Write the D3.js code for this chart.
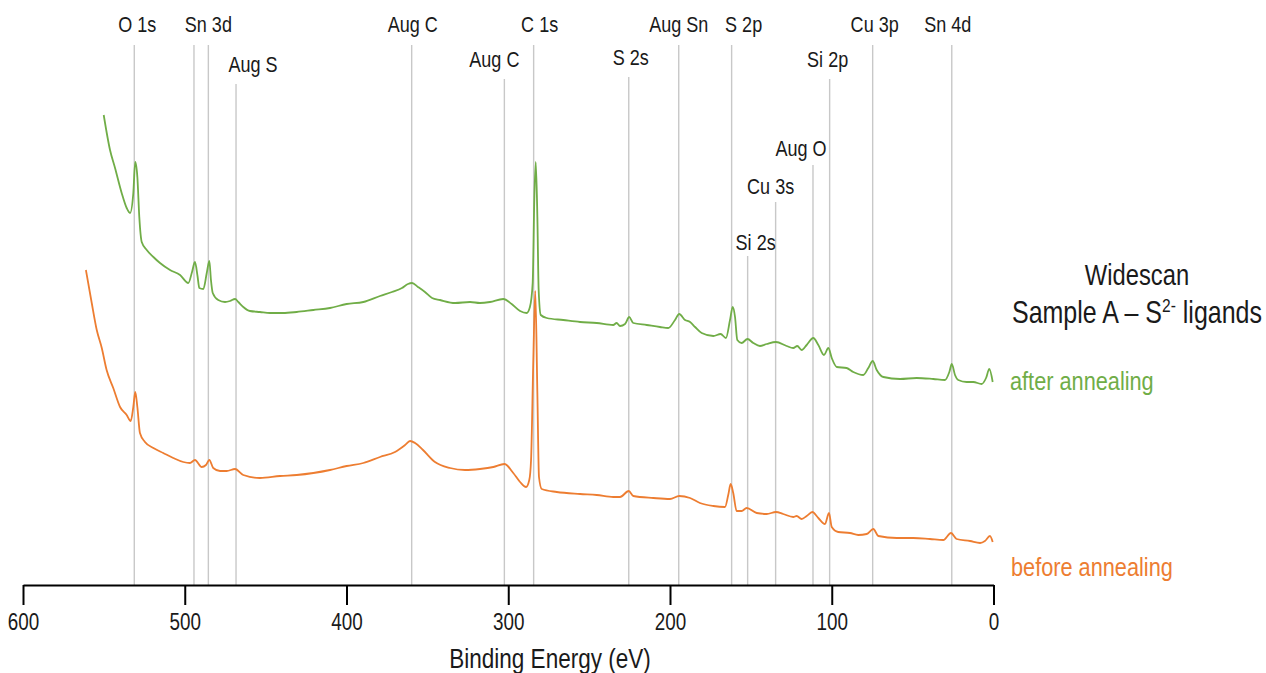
<!DOCTYPE html>
<html>
<head>
<meta charset="utf-8">
<script src="https://cdn.jsdelivr.net/npm/d3@7"></script>
<style>
  html, body { margin: 0; padding: 0; background: #fff; }
  svg { display: block; }
  text { font-family: "Liberation Sans", Arial, sans-serif; fill: #1a1a1a; }
</style>
</head>
<body>
<svg id="chart" width="1266" height="673"></svg>
<script>
// XPS wide scan, intensity in arbitrary units (curves are offset vertically)
const afterEnergy = [550.1,546.2,543.1,539.0,535.9,533.8,531.8,530.6,529.3,528.1,526.6,523.5,519.4,515.3,509.1,502.9,497.8,495.5,493.7,492.1,491.0,488.5,486.4,484.8,483.8,482.7,479.3,475.1,472.0,468.9,466.9,463.8,459.7,453.5,447.3,439.3,430.8,420.5,410.2,399.9,389.6,379.3,371.9,365.7,362.0,359.5,355.8,351.5,347.1,342.2,332.9,323.6,317.5,311.3,303.1,297.9,292.7,288.6,286.6,284.9,283.9,283.0,282.0,281.2,279.9,276.2,266.0,255.6,245.3,235.1,233.0,230.9,227.8,225.2,222.7,214.4,206.2,201.1,196.9,194.3,190.7,187.6,184.5,180.4,173.2,168.7,165.4,162.9,161.2,159.8,158.4,155.7,152.1,148.5,144.4,140.2,134.5,127.9,123.8,121.3,118.6,115.5,111.4,108.3,104.8,102.1,100.0,96.9,90.8,86.7,80.5,77.4,74.7,72.2,68.1,57.8,47.5,37.2,30.0,27.3,25.8,23.8,21.8,16.6,12.5,7.3,4.6,2.6,0.5];
const afterIntensity = [47.0,43.5,41.7,39.2,37.7,37.2,39.2,42.3,40.8,36.8,34.3,33.5,32.8,32.2,31.5,31.0,30.2,31.3,32.3,30.9,29.7,29.6,31.2,32.4,30.5,29.2,28.5,28.3,28.4,28.6,28.3,27.8,27.4,27.3,27.2,27.2,27.3,27.5,27.7,28.1,28.3,28.9,29.3,29.7,30.1,30.2,29.8,29.3,28.7,28.5,28.2,28.3,28.2,28.3,28.6,28.1,27.4,27.2,27.8,30.2,38.5,42.3,36.8,29.5,27.0,26.7,26.5,26.3,26.2,26.0,26.2,25.9,26.1,26.8,26.2,26.0,25.8,25.7,26.5,27.1,26.5,26.3,25.8,25.2,24.9,25.1,24.7,26.5,27.8,26.8,24.5,24.2,24.6,24.2,23.9,24.1,24.3,23.9,23.7,23.9,23.5,24.0,24.7,24.0,23.0,23.7,22.7,21.8,21.7,21.3,21.0,21.7,22.4,21.5,20.8,20.6,20.7,20.6,20.5,21.3,22.1,21.0,20.5,20.3,20.3,20.1,20.7,21.6,20.3];

const beforeEnergy = [561.1,557.5,554.4,551.3,548.3,544.2,540.0,535.9,533.4,531.8,530.6,529.3,527.7,524.6,519.4,513.3,507.1,500.9,496.8,493.7,489.5,486.9,484.8,482.4,478.2,474.1,468.9,463.8,453.5,441.1,430.8,420.5,410.2,399.9,389.6,379.3,370.0,363.8,360.7,357.6,352.7,345.3,336.0,326.7,317.5,309.2,302.4,296.9,292.7,289.0,287.0,285.9,284.5,283.3,282.0,281.0,279.3,270.0,255.6,245.3,235.1,230.9,225.5,222.7,210.3,200.0,194.3,187.6,181.5,173.2,166.0,164.0,162.5,160.9,158.8,155.7,152.6,146.4,140.2,134.5,130.0,123.8,121.7,118.6,115.5,112.0,108.3,104.2,101.7,100.0,96.0,88.7,83.6,78.4,74.3,71.2,59.8,49.6,39.3,31.0,26.3,22.8,14.5,8.3,5.3,2.2,0.5];
const beforeIntensity = [31.5,28.2,25.5,23.7,21.5,19.7,17.8,17.0,16.4,17.8,19.3,17.8,15.2,14.3,13.7,13.2,12.7,12.3,12.2,12.5,11.8,12.0,12.5,11.7,11.4,11.4,11.6,11.0,10.7,10.9,11.0,11.2,11.5,11.9,12.2,12.8,13.3,14.0,14.4,14.2,13.5,12.3,11.7,11.5,11.6,11.8,12.1,11.2,10.3,9.8,10.5,12.5,22.5,29.4,19.2,10.8,9.6,9.3,9.1,9.0,8.8,8.8,9.4,8.9,8.7,8.6,8.9,8.7,8.2,7.9,7.8,9.0,10.1,9.2,7.4,7.4,7.7,7.2,7.1,7.3,7.1,6.8,6.9,6.6,6.9,7.3,6.7,6.1,7.2,5.8,5.3,5.2,5.0,5.1,5.6,4.9,4.7,4.7,4.6,4.5,5.2,4.6,4.4,4.2,4.4,4.9,4.3];

// Peak assignments (binding energy, eV); the Sn 3d doublet shares one label
const peakNames    = ["O 1s", "", "Sn 3d", "Aug S", "Aug C", "Aug C", "C 1s", "S 2s", "Aug Sn", "S 2p", "Si 2s", "Cu 3s", "Aug O", "Si 2p", "Cu 3p", "Sn 4d"];
const peakEnergies = [531.2, 494.3, 485.4, 468.3, 359.7, 302.4, 284.3, 225.5, 194.6, 161.9, 152.0, 134.7, 111.6, 101.3, 74.7, 25.8];

const xTicks = [600, 500, 400, 300, 200, 100, 0];
const seriesNames = ["after annealing", "before annealing"];

// label placement: horizontal nudge, label baseline, top of the marker line
const peakLayout = [
  {dx: 3,   y: 32,  top: 45},
  {dx: 0,   y: 32,  top: 45},
  {dx: 0,   y: 32,  top: 45},
  {dx: 17,  y: 72,  top: 84},
  {dx: 1,   y: 32,  top: 45},
  {dx: -10, y: 67,  top: 79},
  {dx: 6,   y: 32,  top: 45},
  {dx: 2,   y: 65,  top: 77},
  {dx: 0,   y: 32,  top: 45},
  {dx: 12,  y: 32,  top: 45},
  {dx: 8,   y: 250, top: 256},
  {dx: -5,  y: 194, top: 202},
  {dx: -12, y: 156, top: 165},
  {dx: -2,  y: 67,  top: 79},
  {dx: 2,   y: 32,  top: 45},
  {dx: -4,  y: 32,  top: 45}
];

const NARROW = 0.82;   // horizontal squeeze giving a narrow sans face

const svg = d3.select("#chart");
const axisY = 585;

const x = d3.scaleLinear().domain([600, 0]).range([23, 993.5]);
const y = d3.scaleLinear().domain([0, 50]).range([axisY, 85]);

// text helper: narrow text anchored at (tx, ty)
function label(parent, tx, ty, str, size, anchor, color) {
  return parent.append("text")
    .attr("transform", `translate(${tx},${ty}) scale(${NARROW},1)`)
    .attr("text-anchor", anchor || "start")
    .style("font-size", size + "px")
    .style("fill", color || "#1a1a1a")
    .text(str);
}

// peak marker lines
const peaks = peakNames.map((name, i) => ({name, ev: peakEnergies[i], ...peakLayout[i]}));
svg.append("g").selectAll("line").data(peaks).join("line")
  .attr("x1", d => x(d.ev)).attr("x2", d => x(d.ev))
  .attr("y1", d => d.top).attr("y2", axisY)
  .attr("stroke", "#c8c8c8").attr("stroke-width", 1.4);

const gLabels = svg.append("g");
peaks.filter(d => d.name).forEach(d => label(gLabels, x(d.ev) + d.dx, d.y, d.name, 22, "middle"));

// spectra
const line = d3.line().x(d => x(d[0])).y(d => y(d[1])).curve(d3.curveMonotoneX);
const series = [
  {name: seriesNames[0], data: d3.zip(afterEnergy, afterIntensity), color: "#70ad47"},
  {name: seriesNames[1], data: d3.zip(beforeEnergy, beforeIntensity), color: "#ed7d31"}
];
svg.append("g").selectAll("path").data(series).join("path")
  .attr("d", d => line(d.data))
  .attr("fill", "none")
  .attr("stroke", d => d.color)
  .attr("stroke-width", 1.8)
  .attr("stroke-linejoin", "round");

// x axis
const axis = d3.axisBottom(x).tickValues(xTicks).tickSize(20).tickSizeOuter(0).tickPadding(9).tickFormat(d3.format("d"));
const gx = svg.append("g").attr("transform", `translate(0,${axisY})`).call(axis);
gx.select(".domain").attr("stroke", "#000").attr("stroke-width", 2);
gx.selectAll(".tick line").attr("stroke", "#000").attr("stroke-width", 2);
gx.selectAll(".tick text")
  .style("font-size", "23px")
  .style("font-family", "'Liberation Sans', Arial, sans-serif")
  .attr("fill", "#1a1a1a")
  .attr("transform", `scale(${NARROW},1)`);

label(svg, 550, 668, "Binding Energy (eV)", 27.5, "middle");

// title
label(svg, 1137, 285, "Widescan", 29, "middle");
const sub = label(svg, 1137, 323, "", 30.5, "middle");
sub.append("tspan").text("Sample A \u2013 S");
sub.append("tspan").attr("dy", -11).style("font-size", "19px").text("2-");
sub.append("tspan").attr("dy", 11).text(" ligands");

// series labels
label(svg, 1010, 390, series[0].name, 26.5, "start", series[0].color);
label(svg, 1011, 576, series[1].name, 26.5, "start", series[1].color);
</script>
</body>
</html>
